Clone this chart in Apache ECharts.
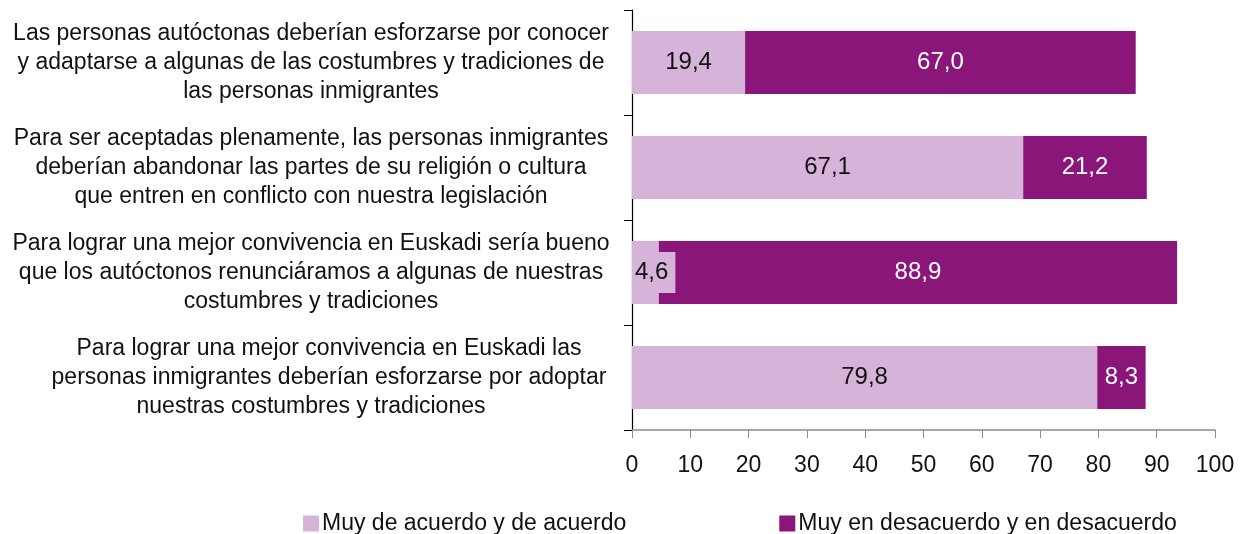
<!DOCTYPE html>
<html><head><meta charset="utf-8">
<script src="https://cdn.jsdelivr.net/npm/echarts@6/dist/echarts.min.js"></script>
<style>html,body{margin:0;padding:0;background:#fff}#c{width:1246px;height:534px}</style>
</head><body><div id="c"></div>
<script>
const categories = [
  "Las personas autóctonas deberían esforzarse por conocer\ny adaptarse a algunas de las costumbres y tradiciones de\nlas personas inmigrantes",
  "Para ser aceptadas plenamente, las personas inmigrantes\ndeberían abandonar las partes de su religión o cultura\nque entren en conflicto con nuestra legislación",
  "Para lograr una mejor convivencia en Euskadi sería bueno\nque los autóctonos renunciáramos a algunas de nuestras\ncostumbres y tradiciones",
  "Para lograr una mejor convivencia en Euskadi las\npersonas inmigrantes deberían esforzarse por adoptar\nnuestras costumbres y tradiciones"
];
const seriesNames = ["Muy de acuerdo y de acuerdo", "Muy en desacuerdo y en desacuerdo"];
const agree = [19.4, 67.1, 4.6, 79.8];
const disagree = [67.0, 21.2, 88.9, 8.3];
const xTicks = [0, 10, 20, 30, 40, 50, 60, 70, 80, 90, 100];

const FONT = "Liberation Sans";
const LIGHT = "#D6B3D9";
const DARK = "#8B1679";
const fmt = v => v.toFixed(1).replace('.', ',');

const agreeData = agree.map((v, i) => {
  const d = { value: v };
  if (v < 8) {
    d.label = { position: 'insideLeft', distance: 0, backgroundColor: LIGHT, padding: [9, 7, 8, 3] };
  }
  return d;
});

// the last label's first two lines sit slightly to the right in the reference
const labelFormatter = (v, idx) => v.split('\n').map((l, li) =>
  (idx === categories.length - 1 && li < 2) ? '{s| }{b|' + l + '}' : '{a|' + l + '}'
).join('\n');

const chart = echarts.init(document.getElementById('c'), null, { renderer: 'canvas' });
chart.setOption({
  animation: false,
  textStyle: { fontFamily: FONT },
  grid: { left: 632, right: 31, top: 10, bottom: 104, containLabel: false },
  legend: {
    left: 298, top: 507,
    itemWidth: 16, itemHeight: 16, itemGap: 153,
    icon: 'rect',
    textStyle: { fontFamily: FONT, fontSize: 23, color: '#111', padding: [0, 0, 0, -2] },
    data: seriesNames
  },
  xAxis: {
    type: 'value', min: xTicks[0], max: xTicks[xTicks.length - 1], interval: 10,
    axisLine: { show: true, lineStyle: { color: '#8c8c8c', width: 1.5 } },
    axisTick: { show: true, length: 8, lineStyle: { color: '#8c8c8c' } },
    splitLine: { show: false },
    axisLabel: { fontFamily: FONT, fontSize: 23, color: '#111', margin: 24 }
  },
  yAxis: {
    type: 'category', data: categories, inverse: true,
    axisLine: { show: true, lineStyle: { color: '#000', width: 1.2 } },
    axisTick: { show: true, length: 8, lineStyle: { color: '#000' } },
    axisLabel: {
      margin: 20,
      formatter: labelFormatter,
      rich: {
        a: { fontFamily: FONT, fontSize: 23, color: '#111', width: 602, align: 'center', lineHeight: 29 },
        s: { fontFamily: FONT, fontSize: 23, width: 36, lineHeight: 29 },
        b: { fontFamily: FONT, fontSize: 23, color: '#111', width: 566, align: 'center', lineHeight: 29 }
      }
    }
  },
  series: [
    {
      name: seriesNames[0], type: 'bar', stack: 's', barWidth: '60%',
      itemStyle: { color: LIGHT },
      label: { show: true, position: 'inside', fontFamily: FONT, fontSize: 24, color: '#111', formatter: p => fmt(p.value) },
      data: agreeData
    },
    {
      name: seriesNames[1], type: 'bar', stack: 's', barWidth: '60%',
      itemStyle: { color: DARK },
      label: { show: true, position: 'inside', fontFamily: FONT, fontSize: 24, color: '#fff', formatter: p => fmt(p.value) },
      data: disagree
    }
  ]
});
</script></body></html>
